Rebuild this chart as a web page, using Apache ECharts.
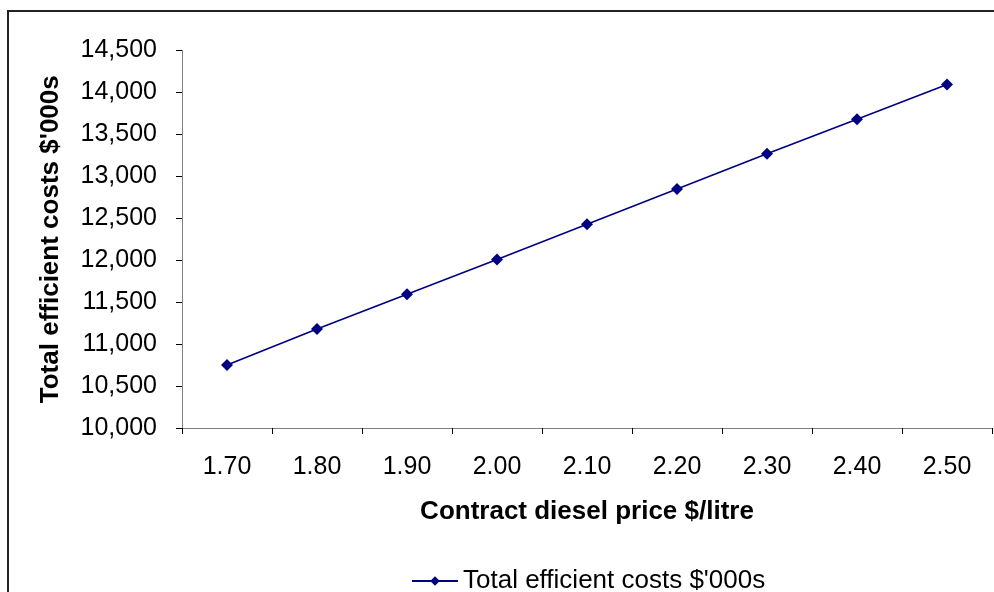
<!DOCTYPE html>
<html>
<head>
<meta charset="utf-8">
<script src="https://cdn.jsdelivr.net/npm/echarts@6/dist/echarts.min.js"></script>
<style>
html,body{margin:0;padding:0;background:#fff;}
#chart{width:994px;height:592px;}
</style>
</head>
<body>
<div id="chart"></div>
<script>
var categories = ['1.70','1.80','1.90','2.00','2.10','2.20','2.30','2.40','2.50'];
var totalCosts = [10750, 11180, 11595, 12010, 12430, 12850, 13270, 13680, 14095];
var seriesName = "Total efficient costs $'000s";
var xTitle = 'Contract diesel price $/litre';
var yTitle = "Total efficient costs $'000s";

var chart = echarts.init(document.getElementById('chart'), null, {renderer:'canvas'});
var font = 'Arial, "Liberation Sans", sans-serif';
var axisColor = '#808080';
chart.setOption({
  animation: false,
  backgroundColor: '#fff',
  graphic: [{
    type: 'rect',
    shape: {x: 8, y: 11, width: 1000, height: 600},
    style: {fill: 'none', stroke: '#222', lineWidth: 2},
    silent: true
  }],
  grid: {left: 182, right: 2, top: 50.5, bottom: 164, containLabel: false},
  legend: {
    data: [seriesName],
    left: 406, top: 563,
    itemWidth: 46, itemHeight: 12,
    itemGap: 6,
    textStyle: {fontFamily: font, fontSize: 26, color: '#000'}
  },
  xAxis: {
    type: 'category',
    data: categories,
    boundaryGap: true,
    axisLine: {lineStyle: {color: axisColor, width: 1}},
    axisTick: {show: true, interval: 0, length: 6, lineStyle: {color: '#000'}},
    axisLabel: {fontFamily: font, fontSize: 25, color: '#000', margin: 27, interval: 0},
    name: xTitle,
    nameLocation: 'middle',
    nameGap: 71,
    nameTextStyle: {fontFamily: font, fontSize: 26, fontWeight: 'bold', color: '#000'}
  },
  yAxis: {
    type: 'value',
    min: 10000, max: 14500, interval: 500,
    splitLine: {show: false},
    axisLine: {show: true, lineStyle: {color: axisColor, width: 1}},
    axisTick: {show: true, length: 6, lineStyle: {color: '#000'}},
    axisLabel: {
      fontFamily: font, fontSize: 25, color: '#000', margin: 25,
      formatter: function (v) { return v.toLocaleString('en-US'); }
    },
    name: yTitle,
    nameLocation: 'middle',
    nameRotate: 90,
    nameGap: 118,
    nameTextStyle: {fontFamily: font, fontSize: 26, fontWeight: 'bold', color: '#000'}
  },
  series: [{
    name: seriesName,
    type: 'line',
    data: totalCosts,
    symbol: 'path://M0,-1L1,0L0,1L-1,0Z',
    symbolSize: 12,
    showAllSymbol: true,
    lineStyle: {color: '#000080', width: 1.6},
    itemStyle: {color: '#000080'}
  }]
});
</script>
</body>
</html>
